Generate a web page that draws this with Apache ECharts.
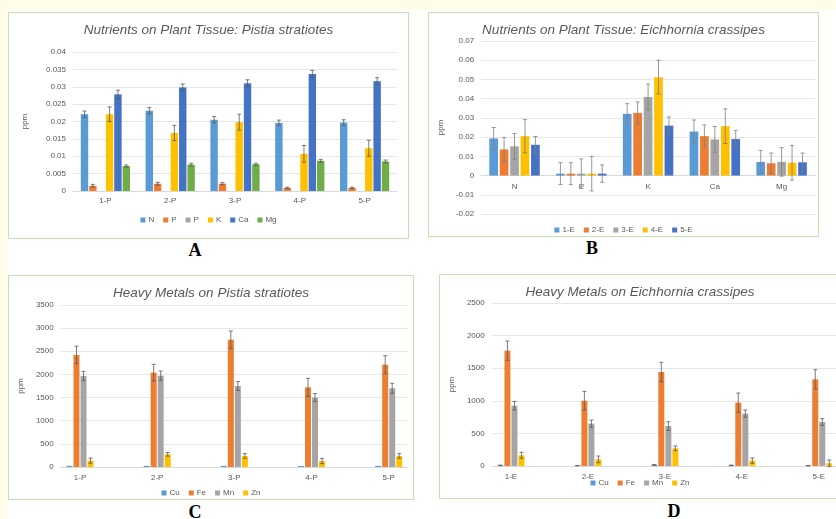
<!DOCTYPE html>
<html>
<head>
<meta charset="utf-8">
<script src="https://cdn.jsdelivr.net/npm/echarts@6/dist/echarts.min.js"></script>
<style>
  html, body { margin: 0; padding: 0; width: 836px; height: 519px; overflow: hidden; background: #fffce8; }
  .sheet { position: absolute; left: 7px; top: 10px; right: 0; bottom: 0; background: #fff; }
  .box { position: absolute; background: #fff; border: 1px solid #c5e0b3; box-sizing: border-box; }
  .chart { width: 100%; height: 100%; }
  .letter { position: absolute; transform: translate(-50%, -50%); font: bold 18px/1 "Liberation Serif", serif; color: #000; }
</style>
</head>
<body>
<div class="sheet"></div>
<div class="box" style="left:8px;top:12px;width:401px;height:227px"><div id="chartA" class="chart"></div></div>
<div class="box" style="left:428px;top:12px;width:391px;height:225px"><div id="chartB" class="chart"></div></div>
<div class="box" style="left:8px;top:275px;width:406px;height:225px"><div id="chartC" class="chart"></div></div>
<div class="box" style="left:439px;top:274px;width:402px;height:225px"><div id="chartD" class="chart"></div></div>
<div class="letter" style="left:195px;top:250px">A</div>
<div class="letter" style="left:592px;top:248px">B</div>
<div class="letter" style="left:195px;top:512px">C</div>
<div class="letter" style="left:674px;top:511px">D</div>

<script>
// A: nutrients, Pistia stratiotes
const catA = ['1-P', '2-P', '3-P', '4-P', '5-P'];
const namesA = ['N', 'P', 'P', 'K', 'Ca', 'Mg'];
const aN = [0.0221, 0.0231, 0.0205, 0.0196, 0.0197];
const aP = [0.0015, 0.0021, 0.0021, 0.0009, 0.0009];
const aP2 = [null, null, null, null, null];
const aK = [0.0221, 0.0167, 0.0198, 0.0107, 0.0123];
const aCa = [0.0278, 0.0298, 0.0310, 0.0337, 0.0316];
const aMg = [0.0072, 0.0076, 0.0077, 0.0087, 0.0085];
const aNErr = [0.0009, 0.0009, 0.0009, 0.0008, 0.0008];
const aPErr = [0.0004, 0.0004, 0.0003, 0.0002, 0.0002];
const aKErr = [0.0021, 0.0022, 0.0023, 0.0024, 0.0023];
const aCaErr = [0.0012, 0.0010, 0.0010, 0.0010, 0.0010];
const aMgErr = [0.0003, 0.0004, 0.0003, 0.0004, 0.0004];

// B: nutrients, Eichhornia crassipes
const catB = ['N', 'P', 'K', 'Ca', 'Mg'];
const namesB = ['1-E', '2-E', '3-E', '4-E', '5-E'];
const b1 = [0.0193, 0.0010, 0.0321, 0.0229, 0.0071];
const b2 = [0.0136, 0.0010, 0.0326, 0.0205, 0.0064];
const b3 = [0.0152, 0.0010, 0.0409, 0.0188, 0.0071];
const b4 = [0.0205, 0.0010, 0.0512, 0.0257, 0.0067];
const b5 = [0.0160, 0.0010, 0.0260, 0.0190, 0.0069];
const b1Err = [0.0057, 0.0057, 0.0053, 0.0060, 0.0060];
const b2Err = [0.0062, 0.0057, 0.0057, 0.0059, 0.0053];
const b3Err = [0.0067, 0.0077, 0.0067, 0.0067, 0.0074];
const b4Err = [0.0086, 0.0090, 0.0088, 0.0090, 0.0090];
const b5Err = [0.0043, 0.0045, 0.0045, 0.0045, 0.0048];

// C: heavy metals, Pistia (blank rows between samples)
const catC = ['1-P', '', '2-P', '', '3-P', '', '4-P', '', '5-P'];
const metals = ['Cu', 'Fe', 'Mn', 'Zn'];
const cCu = [25, 25, 25, 20, 25];
const cFe = [2420, 2038, 2751, 1721, 2211];
const cMn = [1966, 1973, 1750, 1498, 1700];
const cZn = [137, 274, 238, 130, 238];
const cFeErr = [190, 180, 187, 194, 194];
const cMnErr = [100, 100, 94, 86, 108];
const cZnErr = [55, 40, 50, 58, 50];

// D: heavy metals, Eichhornia
const catD = ['1-E', '', '2-E', '', '3-E', '', '4-E', '', '5-E'];
const dCu = [10, 5, 18, 10, 5];
const dFe = [1769, 1002, 1442, 971, 1329];
const dMn = [925, 649, 613, 803, 675];
const dZn = [164, 102, 271, 82, 41];
const dCuErr = [4, 3, 4, 4, 3];
const dFeErr = [148, 143, 148, 148, 148];
const dMnErr = [66, 56, 66, 56, 51];
const dZnErr = [46, 51, 36, 41, 51];

const COLORS = ['#5b9bd5', '#ed7d31', '#a5a5a5', '#ffc000', '#4472c4', '#70ad47'];
const TXT = '#595959';
const FONT = '"Liberation Sans", Arial, sans-serif';

// put the blank rows back between the five samples
const spread = arr => arr.flatMap((v, i) => (i ? [null, v] : [v]));

function errorSeries(values, errs, idx, n, bw, gap, stroke) {
  const step = bw * (1 + gap);
  const total = n * bw + (n - 1) * bw * gap;
  const off = -total / 2 + bw / 2 + idx * step;
  const data = [];
  values.forEach((v, i) => {
    if (v != null && errs[i] != null) data.push([i, v, errs[i]]);
  });
  return {
    type: 'custom',
    name: '_err' + idx,
    silent: true,
    z: 5,
    data: data,
    renderItem(params, api) {
      const x = api.value(0), y = api.value(1), e = api.value(2);
      const top = api.coord([x, y + e]);
      const bot = api.coord([x, y - e]);
      const cx = top[0] + off;
      const st = { stroke: stroke, lineWidth: 0.8 };
      return {
        type: 'group',
        children: [
          { type: 'line', shape: { x1: cx, y1: top[1], x2: cx, y2: bot[1] }, style: st },
          { type: 'line', shape: { x1: cx - 2, y1: top[1], x2: cx + 2, y2: top[1] }, style: st },
          { type: 'line', shape: { x1: cx - 2, y1: bot[1], x2: cx + 2, y2: bot[1] }, style: st }
        ]
      };
    }
  };
}

function buildChart(id, o) {
  const chart = echarts.init(document.getElementById(id));
  const n = o.series.length;
  // category axis sits on the zero line when the value axis goes negative
  const plotH = chart.getHeight() - o.grid.top - o.grid.bottom;
  const xOffset = o.min < 0 ? -(-o.min) / (o.max - o.min) * plotH : 0;
  const series = [];
  o.series.forEach((s, i) => {
    series.push({
      type: 'bar',
      name: s.name + '#' + i,
      data: s.data,
      barWidth: o.barWidth,
      barGap: (o.barGap * 100) + '%',
      itemStyle: { color: s.color },
      z: 2
    });
  });
  o.series.forEach((s, i) => {
    if (s.err) series.push(errorSeries(s.data, s.err, i, n, o.barWidth, o.barGap, o.errColor));
  });
  chart.setOption({
    animation: false,
    textStyle: { fontFamily: FONT },
    title: {
      text: o.title,
      left: 'center',
      top: o.titleTop,
      textStyle: { fontSize: 13.5, fontStyle: 'italic', fontWeight: 'normal', color: TXT, fontFamily: FONT }
    },
    legend: {
      data: o.series.map((s, i) => s.name + '#' + i),
      formatter: name => name.split('#')[0],
      left: 'center',
      top: o.legendTop,
      icon: 'rect',
      itemWidth: 5,
      itemHeight: 5,
      itemGap: 9,
      textStyle: { fontSize: 8, color: TXT, padding: [0, 0, 0, -2] }
    },
    grid: o.grid,
    xAxis: {
      type: 'category',
      data: o.categories,
      offset: xOffset,
      axisLine: { onZero: false, lineStyle: { color: '#d9d9d9' } },
      axisTick: { show: false },
      axisLabel: { fontSize: 8, color: TXT, margin: o.xMargin, interval: 0 }
    },
    yAxis: {
      type: 'value',
      min: o.min,
      max: o.max,
      interval: o.interval,
      name: 'ppm',
      nameLocation: 'middle',
      nameGap: o.nameGap,
      nameTextStyle: { fontSize: 8, color: TXT },
      axisLine: { show: false },
      axisTick: { show: false },
      axisLabel: { fontSize: 8, color: TXT, margin: 7, formatter: v => String(+v.toFixed(6)) },
      splitLine: { lineStyle: { color: '#e6e6e6', width: 1 } }
    },
    series: series
  });
  return chart;
}

buildChart('chartA', {
  title: 'Nutrients on Plant Tissue: Pistia stratiotes',
  titleTop: 5,
  legendTop: 198,
  grid: { left: 64, right: 11, top: 39, bottom: 47 },
  categories: catA,
  min: 0, max: 0.04, interval: 0.005,
  nameGap: 44, xMargin: 6,
  barWidth: 7.4, barGap: 0.13, errColor: '#595959',
  series: [
    { name: namesA[0], data: aN, err: aNErr, color: COLORS[0] },
    { name: namesA[1], data: aP, err: aPErr, color: COLORS[1] },
    { name: namesA[2], data: aP2, color: COLORS[2] },
    { name: namesA[3], data: aK, err: aKErr, color: COLORS[3] },
    { name: namesA[4], data: aCa, err: aCaErr, color: COLORS[4] },
    { name: namesA[5], data: aMg, err: aMgErr, color: COLORS[5] }
  ]
});

buildChart('chartB', {
  title: 'Nutrients on Plant Tissue: Eichhornia crassipes',
  titleTop: 5,
  legendTop: 208,
  grid: { left: 40, right: 3, top: 28, bottom: 22 },
  categories: catB,
  min: -0.02, max: 0.07, interval: 0.01,
  nameGap: 30, xMargin: 7,
  barWidth: 8.7, barGap: 0.2, errColor: '#7f7f7f',
  series: [
    { name: namesB[0], data: b1, err: b1Err, color: COLORS[0] },
    { name: namesB[1], data: b2, err: b2Err, color: COLORS[1] },
    { name: namesB[2], data: b3, err: b3Err, color: COLORS[2] },
    { name: namesB[3], data: b4, err: b4Err, color: COLORS[3] },
    { name: namesB[4], data: b5, err: b5Err, color: COLORS[4] }
  ]
});

buildChart('chartC', {
  title: 'Heavy Metals on Pistia stratiotes',
  titleTop: 5,
  legendTop: 208,
  grid: { left: 41, right: 5, top: 29, bottom: 32 },
  categories: catC,
  min: 0, max: 3500, interval: 500,
  nameGap: 30, xMargin: 7,
  barWidth: 6, barGap: 0.17, errColor: '#595959',
  series: [
    { name: metals[0], data: spread(cCu), color: COLORS[0] },
    { name: metals[1], data: spread(cFe), err: spread(cFeErr), color: COLORS[1] },
    { name: metals[2], data: spread(cMn), err: spread(cMnErr), color: COLORS[2] },
    { name: metals[3], data: spread(cZn), err: spread(cZnErr), color: COLORS[3] }
  ]
});

buildChart('chartD', {
  title: 'Heavy Metals on Eichhornia crassipes',
  titleTop: 5,
  legendTop: 199,
  grid: { left: 40, right: 2, top: 28, bottom: 32 },
  categories: catD,
  min: 0, max: 2500, interval: 500,
  nameGap: 31, xMargin: 7,
  barWidth: 6, barGap: 0.17, errColor: '#595959',
  series: [
    { name: metals[0], data: spread(dCu), err: spread(dCuErr), color: COLORS[0] },
    { name: metals[1], data: spread(dFe), err: spread(dFeErr), color: COLORS[1] },
    { name: metals[2], data: spread(dMn), err: spread(dMnErr), color: COLORS[2] },
    { name: metals[3], data: spread(dZn), err: spread(dZnErr), color: COLORS[3] }
  ]
});
</script>
</body>
</html>
